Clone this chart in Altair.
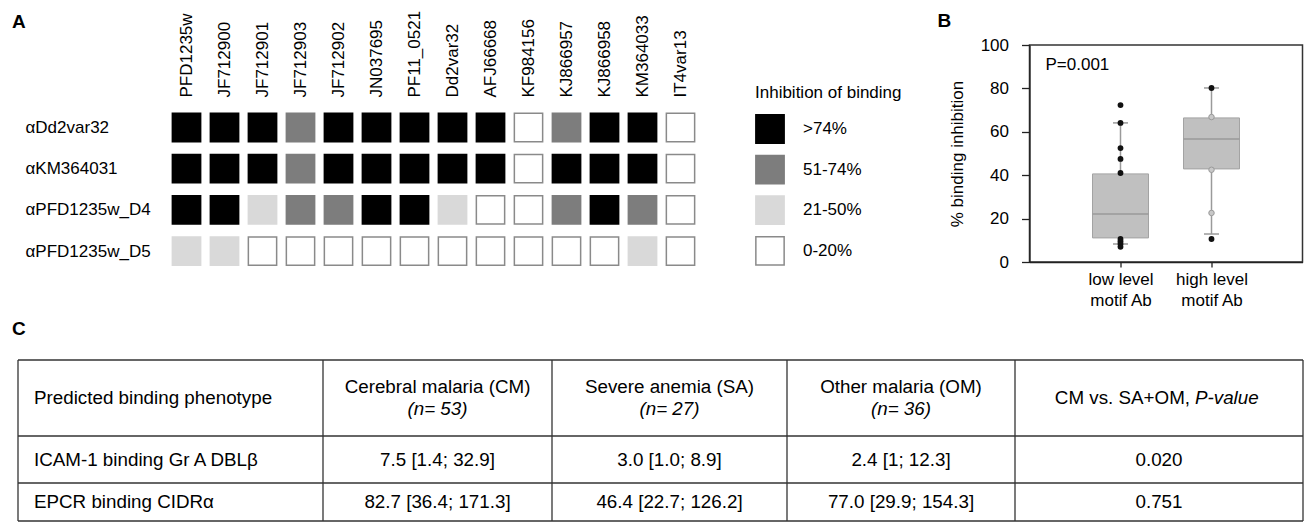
import altair as alt
import pandas as pd

FONT = "Liberation Sans"

# ---------------- Panel A data ----------------
targets = ["PFD1235w", "JF712900", "JF712901", "JF712903", "JF712902", "JN037695",
           "PF11_0521", "Dd2var32", "AFJ66668", "KF984156", "KJ866957", "KJ866958",
           "KM364033", "IT4var13"]
antibodies = ["αDd2var32", "αKM364031", "αPFD1235w_D4", "αPFD1235w_D5"]
levels = [">74%", "51-74%", "21-50%", "0-20%"]

row_dd2var32 = [">74%", ">74%", ">74%", "51-74%", ">74%", ">74%", ">74%", ">74%", ">74%",
                "0-20%", "51-74%", ">74%", ">74%", "0-20%"]
row_km364031 = [">74%", ">74%", ">74%", "51-74%", ">74%", ">74%", ">74%", ">74%", ">74%",
                "0-20%", ">74%", ">74%", ">74%", "0-20%"]
row_pfd_d4 = [">74%", ">74%", "21-50%", "51-74%", "51-74%", ">74%", ">74%", "21-50%", "0-20%",
              "0-20%", "51-74%", ">74%", "51-74%", "0-20%"]
row_pfd_d5 = ["21-50%", "21-50%", "0-20%", "0-20%", "0-20%", "0-20%", "0-20%", "0-20%", "0-20%",
              "0-20%", "0-20%", "0-20%", "21-50%", "0-20%"]

# ---------------- Panel B data ----------------
groups = ["low level|motif Ab", "high level|motif Ab"]
box_q1 = [11.1, 42.9]
box_median = [22.1, 56.7]
box_q3 = [40.6, 66.4]
whisker_low = [8.3, 12.9]
whisker_high = [64.1, 80.2]
low_points = [72.3, 64.1, 52.5, 47.5, 41.0, 10.6, 9.5, 8.3, 7.0]
high_points = [80.2, 10.6]
high_grey_points = [66.8, 42.5, 22.6]
p_text = "P=0.001"

# ---------------- Panel C data ----------------
header_titles = ["Predicted binding phenotype", "Cerebral malaria (CM)",
                 "Severe anemia (SA)", "Other malaria (OM)"]
header_counts = ["(n= 53)", "(n= 27)", "(n= 36)"]
pvalue_header = ["CM vs. SA+OM,", "P-value"]
row_icam = ["ICAM-1 binding Gr A DBLβ", "7.5 [1.4; 32.9]", "3.0 [1.0; 8.9]", "2.4 [1; 12.3]", "0.020"]
row_epcr = ["EPCR binding CIDRα", "82.7 [36.4; 171.3]", "46.4 [22.7; 126.2]", "77.0 [29.9; 154.3]", "0.751"]

# table layout (pixel grid of the table panel)
col_edges = [0, 305, 534, 769, 997, 1285]
row_edges = [0, 76, 123, 161]

# =============== Panel A ===============
recs = []
for ab, vals in zip(antibodies, [row_dd2var32, row_km364031, row_pfd_d4, row_pfd_d5]):
    for t, v in zip(targets, vals):
        recs.append({"antibody": ab, "target": t, "level": v})
dfA = pd.DataFrame(recs)

fill_colors = ["#000000", "#7d7d7d", "#d9d9d9", "#ffffff"]
stroke_colors = ["#000000", "#7d7d7d", "#d9d9d9", "#8a8a8a"]

leg = alt.Legend(title="Inhibition of binding", orient="none", legendX=737, legendY=40,
                 direction="vertical", symbolType="square", symbolSize=800,
                 symbolStrokeWidth=1.5, symbolOpacity=1, rowPadding=4.6, labelOffset=18,
                 titlePadding=12, padding=0, labelFont=FONT, labelFontSize=17,
                 labelColor="black", titleFont=FONT, titleFontSize=17,
                 titleFontWeight="normal", titleColor="black")

heat = alt.Chart(dfA).mark_square(size=800, opacity=1, strokeWidth=1.5, filled=True).encode(
    x=alt.X("target:N", sort=targets,
            scale=alt.Scale(type="point", padding=0.5, range=[149.5, 681.5]),
            axis=alt.Axis(orient="top", labelAngle=270, labelAlign="left", labelBaseline="middle",
                          labelPadding=-52, ticks=False, domain=False, labelFontSize=17,
                          grid=False),
            title=None),
    y=alt.Y("antibody:N", sort=antibodies,
            scale=alt.Scale(type="point", padding=0.5, range=[61.9, 226.7]),
            axis=alt.Axis(labelAlign="left", labelPadding=-7, ticks=False, domain=False,
                          labelFontSize=17, grid=False),
            title=None),
    fill=alt.Fill("level:N", scale=alt.Scale(domain=levels, range=fill_colors), legend=leg),
    stroke=alt.Stroke("level:N", scale=alt.Scale(domain=levels, range=stroke_colors), legend=leg),
)

letterA = alt.Chart(pd.DataFrame({"t": ["A"]})).mark_text(
    align="left", baseline="alphabetic", fontSize=19, fontWeight="bold", font=FONT, color="black"
).encode(text="t:N", x=alt.value(-6), y=alt.value(-17))

panelA = alt.layer(heat, letterA).properties(width=681.5, height=227)

# =============== Panel B ===============
dfBox = pd.DataFrame({"group": groups, "q1": box_q1, "med": box_median, "q3": box_q3,
                      "wlo": whisker_low, "whi": whisker_high})
dfDark = pd.DataFrame({"group": [groups[0]] * len(low_points) + [groups[1]] * len(high_points),
                       "value": low_points + high_points})
dfGrey = pd.DataFrame({"group": [groups[1]] * len(high_grey_points), "value": high_grey_points})

xenc = alt.X("group:N", sort=groups, scale=alt.Scale(type="point", padding=1),
             axis=alt.Axis(labelExpr="split(datum.label, '|')", labelAngle=0, labelFontSize=17,
                           labelLineHeight=21, tickSize=5, labelPadding=4, grid=False,
                           labelBaseline="top"),
             title=None)
yscale = alt.Scale(domain=[0, 100], nice=False)
yaxis = alt.Axis(values=[0, 20, 40, 60, 80, 100], tickSize=8, labelPadding=13,
                 labelFontSize=17, titleFontSize=17, titleFontWeight="normal",
                 titlePadding=14, grid=False)

boxbase = alt.Chart(dfBox)
whisk = boxbase.mark_rule(color="#9a9a9a", strokeWidth=1.5).encode(
    x=xenc, y=alt.Y("wlo:Q", scale=yscale, axis=yaxis, title="% binding inhibition"),
    y2="whi:Q")
boxes = boxbase.mark_bar(size=56, fill="#c0c0c0", stroke="#a3a3a3", strokeWidth=1).encode(
    x=xenc, y=alt.Y("q1:Q", scale=yscale), y2="q3:Q")
medians = boxbase.mark_tick(size=56, thickness=1.5, color="#9a9a9a", opacity=1).encode(
    x=xenc, y=alt.Y("med:Q", scale=yscale))
cap_lo = boxbase.mark_tick(size=15, thickness=1.5, color="#9a9a9a", opacity=1).encode(
    x=xenc, y=alt.Y("wlo:Q", scale=yscale))
cap_hi = boxbase.mark_tick(size=15, thickness=1.5, color="#9a9a9a", opacity=1).encode(
    x=xenc, y=alt.Y("whi:Q", scale=yscale))
dark_pts = alt.Chart(dfDark).mark_circle(size=34, color="#111111", opacity=1).encode(
    x=xenc, y=alt.Y("value:Q", scale=yscale))
grey_pts = alt.Chart(dfGrey).mark_point(size=30, filled=True, fill="#c8c8c8", stroke="#9a9a9a",
                                         strokeWidth=1, opacity=1).encode(
    x=xenc, y=alt.Y("value:Q", scale=yscale))
ptext = alt.Chart(pd.DataFrame({"t": [p_text]})).mark_text(
    align="left", baseline="middle", fontSize=17, font=FONT, color="black"
).encode(text="t:N", x=alt.value(16), y=alt.value(20))
letterB = alt.Chart(pd.DataFrame({"t": ["B"]})).mark_text(
    align="left", baseline="alphabetic", fontSize=19, fontWeight="bold", font=FONT, color="black"
).encode(text="t:N", x=alt.value(-92), y=alt.value(-18))

panelB = alt.layer(whisk, boxes, medians, cap_lo, cap_hi, dark_pts, grey_pts, ptext, letterB).properties(
    width=273, height=217, view=alt.ViewBackground(stroke="#333333", strokeWidth=1.5))

# =============== Panel C ===============
W = col_edges[-1]
H = row_edges[-1]
xs = alt.Scale(domain=[0, W], nice=False, zero=False)
ys = alt.Scale(domain=[0, H], nice=False, zero=False, reverse=True)

hl = pd.DataFrame({"x": [0] * len(row_edges), "x2": [W] * len(row_edges), "y": row_edges})
vl = pd.DataFrame({"x": col_edges, "y": [0] * len(col_edges), "y2": [H] * len(col_edges)})

centers = [(col_edges[i] + col_edges[i + 1]) / 2 for i in range(len(col_edges) - 1)]
row_mid = [(row_edges[i] + row_edges[i + 1]) / 2 for i in range(len(row_edges) - 1)]

hrules = alt.Chart(hl).mark_rule(color="#333333", strokeWidth=1.3).encode(
    x=alt.X("x:Q", scale=xs, axis=None), x2="x2:Q", y=alt.Y("y:Q", scale=ys, axis=None))
vrules = alt.Chart(vl).mark_rule(color="#333333", strokeWidth=1.3).encode(
    x=alt.X("x:Q", scale=xs, axis=None), y=alt.Y("y:Q", scale=ys, axis=None), y2="y2:Q")

first_col = pd.DataFrame({"x": [col_edges[0]] * 3, "y": row_mid,
                          "t": [header_titles[0], row_icam[0], row_epcr[0]]})
body = []
for r, row in zip(row_mid[1:], [row_icam, row_epcr]):
    for c, txt in zip(centers[1:], row[1:]):
        body.append({"x": c, "y": r, "t": txt})
body = pd.DataFrame(body)
head1 = pd.DataFrame({"x": centers[1:4], "y": [row_mid[0]] * 3, "t": header_titles[1:]})
head2 = pd.DataFrame({"x": centers[1:4], "y": [row_mid[0]] * 3, "t": header_counts})
headP = pd.DataFrame({"x": [centers[4]], "y": [row_mid[0]], "a": [pvalue_header[0]],
                      "b": [pvalue_header[1]]})

TFS = 18.8
txt_enc = dict(x=alt.X("x:Q", scale=xs, axis=None), y=alt.Y("y:Q", scale=ys, axis=None))
t_first = alt.Chart(first_col).mark_text(align="left", baseline="middle", dx=16, fontSize=TFS,
                                         font=FONT, color="black").encode(text="t:N", **txt_enc)
t_body = alt.Chart(body).mark_text(align="center", baseline="middle", fontSize=TFS,
                                   font=FONT, color="black").encode(text="t:N", **txt_enc)
t_h1 = alt.Chart(head1).mark_text(align="center", baseline="middle", dy=-11, fontSize=TFS,
                                  font=FONT, color="black").encode(text="t:N", **txt_enc)
t_h2 = alt.Chart(head2).mark_text(align="center", baseline="middle", dy=11, fontSize=TFS,
                                  font=FONT, fontStyle="italic", color="black").encode(text="t:N", **txt_enc)
t_pa = alt.Chart(headP).mark_text(align="right", baseline="middle", dx=31, fontSize=TFS,
                                  font=FONT, color="black").encode(text="a:N", **txt_enc)
t_pb = alt.Chart(headP).mark_text(align="left", baseline="middle", dx=36, fontSize=TFS,
                                  font=FONT, fontStyle="italic", color="black").encode(text="b:N", **txt_enc)
letterC = alt.Chart(pd.DataFrame({"t": ["C"]})).mark_text(
    align="left", baseline="alphabetic", fontSize=19, fontWeight="bold", font=FONT, color="black"
).encode(text="t:N", x=alt.value(-6), y=alt.value(-25))

panelC = alt.layer(hrules, vrules, t_first, t_body, t_h1, t_h2, t_pa, t_pb, letterC).properties(
    width=W, height=H)

# =============== Composition ===============
top = alt.hconcat(panelA, panelB, spacing=329.5, bounds="flush")
chart = alt.vconcat(top, panelC, spacing=11).properties(
    padding={"left": 4, "top": 2, "right": 0, "bottom": 0}
).configure_view(stroke=None).configure_axis(
    labelFont=FONT, titleFont=FONT, labelColor="black", titleColor="black",
    domainColor="#222222", tickColor="#222222", domainWidth=1.3, tickWidth=1.3
).configure_text(font=FONT)

chart.save("out.html", embed_options={"renderer": "svg", "actions": False})
